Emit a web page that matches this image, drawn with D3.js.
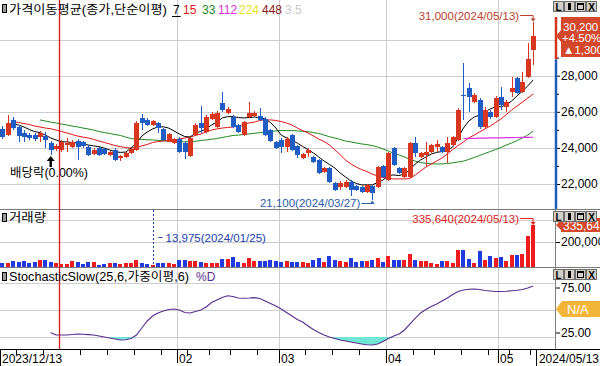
<!DOCTYPE html>
<html lang="ko">
<head>
    <meta charset="UTF-8">
    <title>가격이동평균 · 거래량 · StochasticSlow</title>
    <script src="https://d3js.org/d3.v7.min.js"></script>
    <style>
        body { margin: 0; background: #fff; }
        svg { display: block; font-family: "Liberation Sans", "Noto Sans CJK KR", sans-serif; }
    </style>
</head>
<body>
<div id="chart"></div>
<script>
    // trading days on screen (2023/12/13 ~ 2024/05/13)
    const dates = [
        "2023-12-13","2023-12-14","2023-12-15","2023-12-18","2023-12-19","2023-12-20","2023-12-21","2023-12-22","2023-12-26","2023-12-27",
        "2023-12-28","2024-01-02","2024-01-03","2024-01-04","2024-01-05","2024-01-08","2024-01-09","2024-01-10","2024-01-11","2024-01-12",
        "2024-01-15","2024-01-16","2024-01-17","2024-01-18","2024-01-19","2024-01-22","2024-01-23","2024-01-24","2024-01-25","2024-01-26",
        "2024-01-29","2024-01-30","2024-01-31","2024-02-01","2024-02-02","2024-02-05","2024-02-06","2024-02-07","2024-02-08","2024-02-13",
        "2024-02-14","2024-02-15","2024-02-16","2024-02-19","2024-02-20","2024-02-21","2024-02-22","2024-02-23","2024-02-26","2024-02-27",
        "2024-02-28","2024-02-29","2024-03-04","2024-03-05","2024-03-06","2024-03-07","2024-03-08","2024-03-11","2024-03-12","2024-03-13",
        "2024-03-14","2024-03-15","2024-03-18","2024-03-19","2024-03-20","2024-03-21","2024-03-22","2024-03-25","2024-03-26","2024-03-27",
        "2024-03-28","2024-03-29","2024-04-01","2024-04-02","2024-04-03","2024-04-04","2024-04-05","2024-04-08","2024-04-09","2024-04-11",
        "2024-04-12","2024-04-15","2024-04-16","2024-04-17","2024-04-18","2024-04-19","2024-04-22","2024-04-23","2024-04-24","2024-04-25",
        "2024-04-26","2024-04-29","2024-04-30","2024-05-02","2024-05-03","2024-05-07","2024-05-08","2024-05-09","2024-05-10","2024-05-13"
    ];

    // daily OHLC (won)
    const openP = [
        25050,24700,25550,25150,24850,24700,24700,24600,24650,24250, 23950,23900,24150,24050,24400,24350,24050,23650,24000,23950,
        23600,23900,23450,23500,23700,23900,25650,25550,25250,25400, 25050,24350,24250,24500,24250,23550,24700,25400,24900,25600,
        25150,26500,25950,25700,25250,24700,25700,25750,25750,25600, 25000,24350,24450,24050,24700,24100,23450,23700,23500,23350,
        22650,22900,22050,21850,21850,22100,21900,21850,21550,21900, 21850,23000,22200,24000,22900,22400,22400,24250,23500,23600,
        23750,24050,24050,23750,24150,24450,26950,27300,26550,26650, 25150,26000,25700,26800,26250,27100,27850,27100,27950,29450
    ];
    const highP = [
        25200,25800,25700,25250,25000,24850,24800,24950,24900,24400, 24200,24450,24550,24450,24500,24400,24150,24000,24050,24000,
        23850,24000,23600,23750,24000,25500,25900,25650,25550,25450, 25100,24800,24550,24600,24400,24600,25400,26300,25800,26000,
        26050,27100,26250,25800,25350,25500,26550,26050,26200,25700, 25050,24400,24550,24600,24750,24150,23700,24000,23550,23400,
        22950,22950,22100,22150,22200,22200,21950,21900,22000,21950, 23000,23050,23800,24050,22950,22950,24350,24600,23750,24300,
        24200,24450,24100,24600,24650,26200,28700,27600,27050,26750, 26250,26100,26850,27350,26650,27950,27950,28200,29800,31000
    ];
    const lowP = [
        24500,24650,25000,24350,24350,24450,24400,24350,24000,23600, 23850,23800,23800,24000,23350,24000,23550,23600,23550,23600,
        23550,23250,23250,23450,23650,23850,25000,25200,25200,24850, 24400,24300,24200,23700,23400,23500,24650,24850,24850,25550,
        25100,26000,25900,25100,24850,24650,25650,25700,25500,24650, 24300,23950,23700,23750,23850,23450,23400,23500,23150,22550,
        22600,22050,21600,21650,21800,21350,21600,21500,21500,21100, 21800,22350,22150,23000,22550,22350,22350,23500,23450,22950,
        23700,23750,23700,23150,24100,24400,25550,26000,26500,25050, 25100,25600,25650,26100,26000,26800,27000,27050,27900,28600
    ];
    const closeP = [
        24600,25400,25100,24650,24600,24550,24500,24850,24450,23900, 24100,24350,24250,24350,24050,24100,23600,23900,23600,23650,
        23750,23350,23550,23700,23950,25400,25400,25250,25500,25100, 24450,24750,24500,23750,23750,24550,25250,25100,25700,25900,
        25950,26100,26150,25150,24900,25450,25950,25950,25550,24700, 24400,24000,24050,24500,23900,23600,23650,23900,23200,22600,
        22900,22100,21650,22050,22100,21650,21650,21550,21950,21500, 22950,22400,23700,23050,22600,22900,24250,23700,23700,23750,
        24150,24200,23750,24250,24600,26100,26900,26800,26950,25150, 26100,25700,26750,26400,26550,27300,27050,27650,28900,30200
    ];

    // volume (shares)
    const volume = [
        35000,32000,45000,40000,45000,35000,40000,53000,53000,40000, 32000,21000,27000,45000,40000,27000,40000,40000,19000,24000,
        32000,32000,27000,35000,35000,59000,32000,27000,13975,32000, 32000,32000,25000,53000,53000,45000,48000,40000,35000,35000,
        35000,67000,67000,80000,40000,32000,75000,48000,45000,45000, 59000,45000,40000,45000,40000,40000,40000,35000,53000,75000,
        40000,85000,60000,45000,40000,70000,40000,45000,50000,60000, 75000,40000,85000,53000,53000,53000,107000,59000,45000,45000,
        32000,21000,45000,45000,32000,133000,139000,67000,32000,128000, 53000,85000,75000,80000,45000,95000,100000,101000,245000,335640
    ];

    // moving averages (null = not drawn)
    const ma7 = [
        null,null,25320,25270,25160,25020,24900,24850,24710,24550, 24440,24340,24330,24300,24270,24220,24160,24110,24070,23990,
        23880,23790,23750,23770,23990,24270,24660,24880,25050,25160, 25170,25100,24940,24770,24630,24600,24830,24910,25050,25270,
        25430,25660,25730,25730,25680,25660,25680,25710,25680,25600, 25410,25100,24710,24550,24410,24270,24080,23910,23720,23500,
        23270,23080,22890,22610,22390,22170,22030,21950,21950,21950, 22080,22220,22470,22500,22470,22550,22780,23110,23330,23500,
        23660,23750,23800,23880,24050,24550,25100,25490,25710,25820, 25990,26160,26280,26280,26380,26600,26880,27150,27430,27760
    ];
    const ma15 = [
        null,null,25450,25410,25350,25300,25210,25160,25100,25060, 24990,24910,24830,24740,24660,24600,24550,24470,24380,24300,
        24220,24130,24070,24020,23990,24020,24110,24190,24300,24350, 24380,24410,24440,24490,24550,24600,24690,24770,24880,24990,
        25050,25100,25130,25160,25210,25300,25380,25430,25520,25550, 25550,25520,25460,25380,25270,25100,24960,24830,24660,24490,
        24350,24160,23900,23620,23330,23110,22940,22800,22690,22550, 22440,22360,22320,22280,22280,22280,22300,22500,22720,22940,
        23110,23270,23440,23660,23910,24130,24330,24550,24710,24880, 25050,25210,25410,25600,25850,26100,26320,26540,26760,26990
    ];
    const ma33 = [
        null,null,null,null,null,null,null,25550,25490,25430, 25380,25320,25270,25210,25160,25100,25050,24990,24910,24850,
        24800,24740,24690,24600,24520,24480,24470,24450,24440,24420, 24400,24370,24340,24340,24340,24340,24370,24410,24440,24480,
        24520,24580,24630,24690,24710,24740,24770,24810,24840,24880, 24910,24940,24960,24960,24960,24940,24920,24900,24850,24800,
        24710,24620,24550,24470,24380,24330,24270,24220,24180,24130, 24050,23940,23830,23690,23610,23500,23360,23270,23190,23150,
        23120,23110,23110,23140,23170,23220,23270,23360,23470,23580, 23690,23800,23910,24020,24160,24270,24410,24550,24710,24940
    ];
    const ma112Start = "2024-04-22";
    const ma112 = [24520,24525,24530,24540,24545,24550,24555,24560,24565,24570,24575,24580,24585,24590];

    // Stochastic slow %D
    const stochD = [
        null,null,null,null,null,null,null,null,null,24.8, 22.2,22.2,22.2,22.8,23.3,23.0,22.6,22.2,21.1,20.0,
        18.9,17.8,16.7,16.9,18.3,22.2,30.0,37.8,43.3,46.7, 48.9,50.6,51.1,50.0,47.2,46.7,48.3,50.0,53.3,58.3,
        61.1,63.9,65.9,65.0,63.3,63.1,63.3,63.7,62.8,60.0, 57.2,54.4,51.1,47.2,43.3,39.4,36.7,32.2,28.3,25.0,
        22.2,20.0,18.3,16.7,15.6,14.4,13.3,12.2,11.4,11.1, 12.2,15.0,18.3,21.1,23.3,27.8,34.4,40.6,46.7,50.6,
        53.9,56.7,60.0,63.3,67.2,70.6,72.2,73.0,73.3,72.8, 71.7,71.1,70.6,70.6,70.8,71.4,71.9,72.8,74.4,76.7
    ];

    const maPeriods = ["7", "15", "33", "112", "224", "448", "3.5"];
    const priceTicks = [22000, 24000, 26000, 28000];
    const priceGrid = [22000, 24000, 26000, 28000, 30000];
    const volumeTicks = [200000];
    const stochTicks = [25, 75];
    const prevClose = 28900;
    const exDivDate = "2023-12-27";

    // ---------- setup ----------
    const W = 600, H = 366, axisX = 556;
    const RED = "#d9361f", BLUE = "#1f5cc4";
    const VRED = "#ee1c1c", VBLUE = "#1f3be0";
    const fmt = d3.format(",");

    const svg = d3.select("#chart").append("svg")
        .attr("width", W).attr("height", H);
    svg.append("rect").attr("width", W).attr("height", H).attr("fill", "#fff");

    const x = d3.scaleBand().domain(dates).range([-0.2, 535.8]);
    const cx = d => x(d) + x.bandwidth() / 2;
    const yPrice = d3.scaleLinear().domain([22000, 28000]).range([184, 75.7]);
    const yVol = d3.scaleLinear().domain([0, 200000]).range([267, 242]);
    const yStoch = d3.scaleLinear().domain([0, 100]).range([355, 265]);

    const defs = svg.append("defs");
    [["clipP", 0, 209], ["clipV", 209, 268], ["clipS", 268, 349]].forEach(([id, y0, y1]) => {
        defs.append("clipPath").attr("id", id).append("rect")
            .attr("x", 0).attr("y", y0).attr("width", axisX).attr("height", y1 - y0);
    });

    // month / year boundaries
    const monthStarts = dates.filter((d, i) => i > 0 && d.slice(5, 7) !== dates[i - 1].slice(5, 7) && d.slice(5, 7) !== "01");
    const yearStart = dates.find((d, i) => i > 0 && d.slice(0, 4) !== dates[i - 1].slice(0, 4));
    const parse = d3.timeParse("%Y-%m-%d");
    const weekStarts = dates.filter((d, i) => i > 0 &&
        +d3.timeMonday.floor(parse(d)) !== +d3.timeMonday.floor(parse(dates[i - 1])) &&
        !monthStarts.includes(d) && d !== yearStart);

    // ---------- grid ----------
    const grid = svg.append("g").attr("stroke", "#cdcdcd").attr("shape-rendering", "crispEdges");
    priceGrid.forEach(p => grid.append("line").attr("x1", 0).attr("x2", axisX)
        .attr("y1", Math.round(yPrice(p)) + 0.5).attr("y2", Math.round(yPrice(p)) + 0.5));
    [200000, 376000].forEach(v => grid.append("line").attr("x1", 0).attr("x2", axisX)
        .attr("y1", Math.round(yVol(v)) + 0.5).attr("y2", Math.round(yVol(v)) + 0.5));
    [20, 50, 80].forEach(v => grid.append("line").attr("x1", 0).attr("x2", axisX)
        .attr("y1", Math.round(yStoch(v)) + 0.5).attr("y2", Math.round(yStoch(v)) + 0.5));
    monthStarts.forEach(d => grid.append("line")
        .attr("x1", Math.round(x(d)) + 0.5).attr("x2", Math.round(x(d)) + 0.5)
        .attr("y1", 0).attr("y2", 349));

    // panel separators
    svg.append("line").attr("x1", 0).attr("x2", W).attr("y1", 209.5).attr("y2", 209.5).attr("stroke", "#7a7a7a");
    svg.append("line").attr("x1", 0).attr("x2", W).attr("y1", 267.5).attr("y2", 267.5).attr("stroke", "#7a7a7a");

    // ---------- price panel ----------
    const pp = svg.append("g").attr("clip-path", "url(#clipP)");

    const maLine = (arr, offset = 0) => d3.line()
        .defined(v => v != null)
        .x((v, i) => cx(dates[i + offset]))
        .y(v => yPrice(v))(arr);

    [[ma33, "#1e8a1e"], [ma15, "#e01414"], [ma7, "#000000"]].forEach(([arr, col]) => {
        pp.append("path").attr("d", maLine(arr)).attr("fill", "none").attr("stroke", col).attr("stroke-width", 1);
    });
    pp.append("path").attr("d", maLine(ma112, dates.indexOf(ma112Start)))
        .attr("fill", "none").attr("stroke", "#e030e0").attr("stroke-width", 1.2);

    const candles = dates.map((d, i) => ({ d, o: openP[i], h: highP[i], l: lowP[i], c: closeP[i], v: volume[i] }));
    const up = k => k.c >= k.o;

    const cg = pp.append("g").attr("shape-rendering", "crispEdges");
    candles.forEach(k => {
        const bx = Math.round(cx(k.d) - 2);
        const col = up(k) ? RED : BLUE;
        cg.append("line").attr("x1", bx + 2.5).attr("x2", bx + 2.5)
            .attr("y1", Math.round(yPrice(k.h))).attr("y2", Math.round(yPrice(k.l)))
            .attr("stroke", col);
        const top = Math.round(yPrice(Math.max(k.o, k.c)));
        const bot = Math.round(yPrice(Math.min(k.o, k.c)));
        cg.append("rect").attr("x", bx).attr("y", top)
            .attr("width", 5).attr("height", Math.max(1, bot - top)).attr("fill", col);
    });

    // ex-dividend marker
    const exX = cx(exDivDate);
    pp.append("path").attr("d", `M${exX},156 L${exX - 4},161 L${exX - 1.2},161 L${exX - 1.2},167 L${exX + 1.2},167 L${exX + 1.2},161 L${exX + 4},161 Z`)
        .attr("fill", "#000");
    pp.append("text").attr("x", 10).attr("y", 177).attr("font-size", 12)
        .attr("textLength", 78).attr("lengthAdjust", "spacingAndGlyphs").text("배당락(0.00%)");

    // high / low labels
    const hiIdx = d3.maxIndex(highP), loIdx = d3.minIndex(lowP);
    const fmtDate = d => d.replace(/-/g, "/");
    const hx = cx(dates[hiIdx]), hy = yPrice(highP[hiIdx]);
    pp.append("text").attr("x", hx - 14).attr("y", 20).attr("text-anchor", "end")
        .attr("font-size", 11.5).attr("fill", "#b8402a")
        .text(`${fmt(highP[hiIdx])}(${fmtDate(dates[hiIdx])})`);
    pp.append("path").attr("d", `M${hx - 13},15.5 H${hx} V${hy - 2}`).attr("fill", "none").attr("stroke", "#b8402a");
    pp.append("path").attr("d", `M${hx - 2.5},${hy - 3} L${hx + 2.5},${hy - 3} L${hx},${hy} Z`).attr("fill", "#b8402a");

    const lx = cx(dates[loIdx]), ly = yPrice(lowP[loIdx]);
    pp.append("text").attr("x", lx - 12).attr("y", 206.5).attr("text-anchor", "end")
        .attr("font-size", 11.5).attr("fill", "#2a5aa8")
        .text(`${fmt(lowP[loIdx])}(${fmtDate(dates[loIdx])})`);
    pp.append("path").attr("d", `M${lx - 11},203.5 H${lx}`).attr("stroke", "#2a5aa8");
    pp.append("path").attr("d", `M${lx - 2.5},${ly + 3.5} L${lx + 2.5},${ly + 3.5} L${lx},${ly + 0.5} Z`).attr("fill", "#2a5aa8");

    // ---------- volume panel ----------
    const vp = svg.append("g").attr("clip-path", "url(#clipV)").attr("shape-rendering", "crispEdges");
    candles.forEach(k => {
        const bx = Math.round(cx(k.d) - 2);
        const top = Math.round(yVol(k.v));
        vp.append("rect").attr("x", bx).attr("y", top).attr("width", 4)
            .attr("height", Math.max(1, 267 - top)).attr("fill", up(k) ? VRED : VBLUE);
    });

    const vMin = d3.minIndex(volume), vMax = d3.maxIndex(volume);
    const mx = Math.round(cx(dates[vMin])) + 0.5;
    svg.append("line").attr("x1", mx).attr("x2", mx).attr("y1", 210).attr("y2", 267)
        .attr("stroke", "#2240b0").attr("stroke-dasharray", "2,2");
    svg.append("line").attr("x1", mx + 5).attr("x2", mx + 9).attr("y1", 237.5).attr("y2", 237.5).attr("stroke", "#2240b0");
    svg.append("text").attr("x", mx + 12).attr("y", 242).attr("font-size", 11.5).attr("fill", "#2240b0")
        .text(`${fmt(volume[vMin])}(${fmtDate(dates[vMin])})`);

    const vx = cx(dates[vMax]), vy = yVol(volume[vMax]);
    svg.append("text").attr("x", vx - 14).attr("y", 222.5).attr("text-anchor", "end")
        .attr("font-size", 11.5).attr("fill", "#e02020")
        .text(`${fmt(volume[vMax])}(${fmtDate(dates[vMax])})`);
    svg.append("path").attr("d", `M${vx - 13},218.5 H${vx} V${vy - 2}`).attr("fill", "none").attr("stroke", "#e02020");
    svg.append("path").attr("d", `M${vx - 2.5},${vy - 3} L${vx + 2.5},${vy - 3} L${vx},${vy} Z`).attr("fill", "#e02020");

    // ---------- stochastic panel ----------
    const sp = svg.append("g").attr("clip-path", "url(#clipS)");
    sp.append("path")
        .attr("d", d3.area().defined(v => v != null)
            .x((v, i) => cx(dates[i])).y0(yStoch(20)).y1(v => yStoch(Math.min(v, 20)))(stochD))
        .attr("fill", "#72e6d4");
    sp.append("path")
        .attr("d", d3.line().defined(v => v != null)
            .x((v, i) => cx(dates[i])).y(v => yStoch(v))(stochD))
        .attr("fill", "none").attr("stroke", "#5b2c8f").attr("stroke-width", 1.1);

    // year boundary
    const yx = Math.round(x(yearStart)) + 0.5;
    svg.append("line").attr("x1", yx).attr("x2", yx).attr("y1", 0).attr("y2", 349)
        .attr("stroke", "#d41818").attr("stroke-width", 1.3);

    // ---------- right axes ----------
    const tidy = g => {
        g.select(".domain").remove();
        g.attr("font-family", null).attr("font-size", 12);
        g.selectAll("text").attr("fill", "#000");
    };
    svg.append("g").attr("transform", `translate(${axisX},0)`)
        .call(d3.axisRight(yPrice).tickValues(priceTicks).tickSize(4).tickPadding(1).tickFormat(fmt)).call(tidy);
    svg.append("g").attr("transform", `translate(${axisX},0)`)
        .call(d3.axisRight(yPrice).tickValues([23000, 25000, 27000, 29000]).tickSize(3).tickFormat(""))
        .call(g => g.select(".domain").remove());
    svg.append("g").attr("transform", `translate(${axisX},0)`)
        .call(d3.axisRight(yVol).tickValues(volumeTicks).tickSize(4).tickPadding(1).tickFormat(fmt)).call(tidy);
    svg.append("g").attr("transform", `translate(${axisX},0)`)
        .call(d3.axisRight(yStoch).tickValues(stochTicks).tickSize(4).tickPadding(1).tickFormat(d3.format(".2f"))).call(tidy);

    // axis bars
    const pcY = yPrice(prevClose);
    svg.append("line").attr("x1", axisX).attr("x2", axisX).attr("y1", 17).attr("y2", pcY).attr("stroke", "#d4361f").attr("stroke-width", 2.5);
    svg.append("line").attr("x1", axisX).attr("x2", axisX).attr("y1", pcY).attr("y2", 209).attr("stroke", "#1f5cb8").attr("stroke-width", 2.5);
    svg.append("line").attr("x1", axisX - 0.5).attr("x2", axisX - 0.5).attr("y1", 210).attr("y2", 349).attr("stroke", "#808080");

    // current price box
    const last = closeP[closeP.length - 1];
    const cy = yPrice(last);
    svg.append("path").attr("d", `M${axisX},${cy} L561,${cy - 6} L561,17 L600,17 L600,57 L561,57 L561,${cy + 6} Z`).attr("fill", "#d4472b");
    [fmt(last), "+" + ((last - prevClose) / prevClose * 100).toFixed(2) + "%", "▲" + fmt(last - prevClose)]
        .forEach((t, j) => svg.append("text").attr("x", 563 - (j === 1 ? 1 : 0)).attr("y", 30.5 + j * 11.5)
            .attr("font-size", 11.5).attr("fill", "#fff").text(t));

    // last volume box (partly under the buttons)
    const lvY = yVol(volume[volume.length - 1]);
    svg.append("path").attr("d", `M${axisX},${lvY} L561,${lvY - 5} L561,218 L600,218 L600,232 L561,232 L561,${lvY + 5} Z`).attr("fill", "#d4472b");
    svg.append("text").attr("x", 563).attr("y", 230).attr("font-size", 12).attr("fill", "#fff").text(fmt(volume[volume.length - 1]));

    // N/A box
    const ny = yStoch(50) - 1;
    svg.append("path").attr("d", `M${axisX},${ny} L562,${ny - 8} L600,${ny - 8} L600,${ny + 8} L562,${ny + 8} Z`).attr("fill", "#f2b53a");
    svg.append("text").attr("x", 567).attr("y", ny + 5).attr("font-size", 13).attr("fill", "#fff").text("N/A");

    // ---------- bottom axis ----------
    svg.append("line").attr("x1", 0).attr("x2", W).attr("y1", 349.5).attr("y2", 349.5).attr("stroke", "#000");
    const ax = svg.append("g").attr("stroke", "#000").attr("shape-rendering", "crispEdges");
    weekStarts.forEach(d => ax.append("line").attr("x1", Math.round(x(d)) + 0.5).attr("x2", Math.round(x(d)) + 0.5)
        .attr("y1", 349).attr("y2", 355));
    [0, x.range()[1]].forEach(px => ax.append("line").attr("x1", Math.round(px) + 0.5).attr("x2", Math.round(px) + 0.5)
        .attr("y1", 349).attr("y2", 366));
    monthStarts.forEach(d => {
        const px = Math.round(x(d)) + 0.5;
        ax.append("line").attr("x1", px).attr("x2", px).attr("y1", 349).attr("y2", 363);
        svg.append("text").attr("x", px + 1.5).attr("y", 363).attr("font-size", 12).text(d.slice(5, 7));
    });
    svg.append("text").attr("x", 2).attr("y", 363).attr("font-size", 12).text(fmtDate(dates[0]));
    svg.append("text").attr("x", 599).attr("y", 363).attr("text-anchor", "end").attr("font-size", 12).text(fmtDate(dates[dates.length - 1]));

    // ---------- titles / legend ----------
    function panelIcon(y) {
        svg.append("rect").attr("x", 2.5).attr("y", y + 0.5).attr("width", 4).attr("height", 8)
            .attr("fill", "#9a9a9a").attr("stroke", "#000");
    }
    panelIcon(4); panelIcon(213); panelIcon(272);

    svg.append("text").attr("x", 9).attr("y", 14).attr("font-size", 12)
        .attr("textLength", 158).attr("lengthAdjust", "spacingAndGlyphs").text("가격이동평균(종가,단순이평)");
    const legendX = [173, 183, 202, 218, 239, 262, 285];
    const maColors = ["#000000", "#e01414", "#1e8a1e", "#e030e0", "#e6e61e", "#8b1a1a", "#c8c8c8"];
    maPeriods.forEach((p, j) => {
        const t = svg.append("text").attr("x", legendX[j]).attr("y", 14).attr("font-size", 12).attr("fill", maColors[j]).text(p);
        if (j === 0) {
            const w = t.node().getComputedTextLength();
            svg.append("line").attr("x1", legendX[j] - 1).attr("x2", legendX[j] + w + 1)
                .attr("y1", 16.5).attr("y2", 16.5).attr("stroke", "#000");
        }
    });

    svg.append("text").attr("x", 9).attr("y", 222).attr("font-size", 12)
        .attr("textLength", 37).attr("lengthAdjust", "spacingAndGlyphs").text("거래량");
    svg.append("text").attr("x", 9).attr("y", 281).attr("font-size", 12)
        .attr("textLength", 180).attr("lengthAdjust", "spacingAndGlyphs").text("StochasticSlow(25,6,가중이평,6)");
    svg.append("text").attr("x", 196).attr("y", 281).attr("font-size", 12).attr("fill", "#5b2c8f").text("%D");

    // ---------- panel buttons ----------
    function panelButtons(y) {
        const g = svg.append("g").attr("transform", `translate(553,${y})`).attr("shape-rendering", "crispEdges");
        ["L", "I", "box", "X"].forEach((k, j) => {
            const bx = j * 11;
            g.append("rect").attr("x", bx + 0.5).attr("y", 0.5).attr("width", 10).attr("height", 10)
                .attr("fill", "#d4d0c8").attr("stroke", "#6d6d6d");
            if (k === "I") {
                g.append("rect").attr("x", bx + 4).attr("y", 2).attr("width", 3).attr("height", 7).attr("fill", "#000");
            } else if (k === "box") {
                g.append("rect").attr("x", bx + 2.5).attr("y", 2.5).attr("width", 6).attr("height", 6).attr("fill", "none").attr("stroke", "#000");
                g.append("line").attr("x1", bx + 2.5).attr("x2", bx + 8.5).attr("y1", 3.5).attr("y2", 3.5).attr("stroke", "#000");
            } else {
                g.append("text").attr("x", bx + 5.5).attr("y", 9.5).attr("text-anchor", "middle")
                    .attr("font-size", 10).attr("font-weight", "bold").text(k);
            }
        });
    }
    panelButtons(1); panelButtons(211); panelButtons(269);
</script>
</body>
</html>
